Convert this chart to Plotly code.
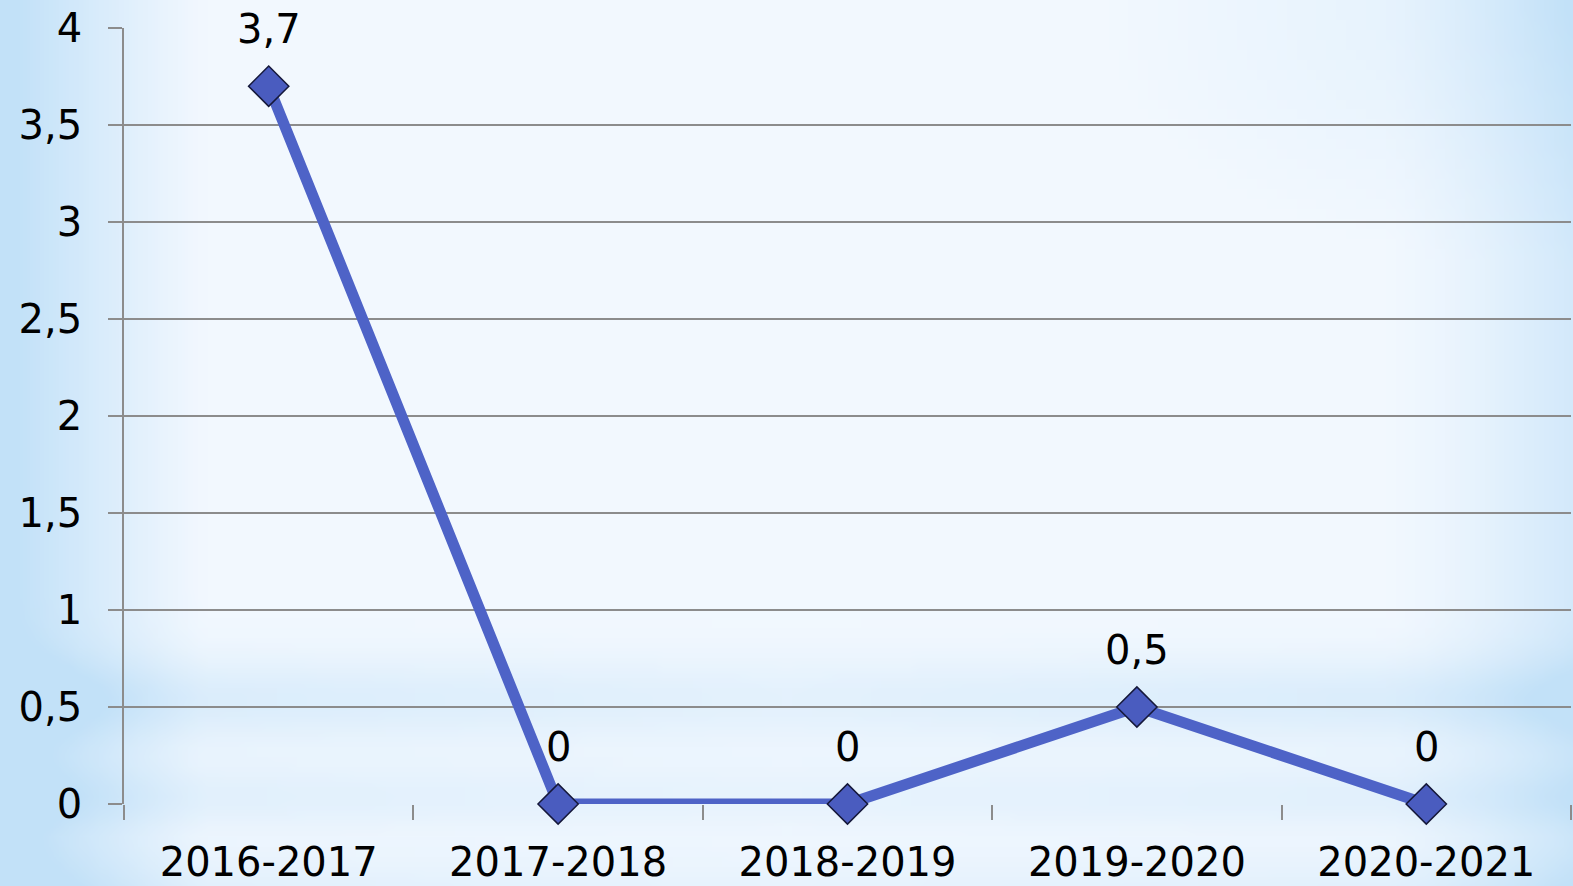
import base64, struct, zlib, math
import plotly.graph_objects as go

categories = ["2016-2017", "2017-2018", "2018-2019", "2019-2020", "2020-2021"]
values = [3.7, 0, 0, 0.5, 0]
labels = [f"{v:g}".replace(".", ",") for v in values]

# ---- background gradient image (decoration) ----
W, H = 160, 90
white = (246, 250, 255)
blue = (194, 225, 248)

def mix(a, b, t):
    return tuple(int(round(a[i] + (b[i] - a[i]) * t)) for i in range(3))

rows = []
for j in range(H):
    fy = j / (H - 1)
    row = bytearray([0])
    for i in range(W):
        fx = i / (W - 1)
        left = max(0.0, 1 - fx / 0.13) ** 1.1
        right = max(0.0, 1 - (1 - fx) / 0.12) ** 1.4 * 0.6
        band = math.exp(-((fy - 0.79) / 0.05) ** 2) * 0.5 + math.exp(-((fy - 0.9) / 0.04) ** 2) * 0.35
        band += max(0.0, (fy - 0.94) / 0.06) * 0.35
        top_right = max(0.0, 1 - math.hypot(1 - fx, fy) / 0.3) * 0.35
        t = min(1.0, 0.08 + left + right + band * (0.55 + 0.45 * abs(fx - 0.5) * 2) + top_right)
        row += bytes(mix(white, blue, t))
    rows.append(bytes(row))
raw = b"".join(rows)

def chunk(tag, data):
    c = struct.pack(">I", len(data)) + tag + data
    return c + struct.pack(">I", zlib.crc32(tag + data) & 0xFFFFFFFF)

png = b"\x89PNG\r\n\x1a\n" + chunk(b"IHDR", struct.pack(">IIBBBBB", W, H, 8, 2, 0, 0, 0)) \
    + chunk(b"IDAT", zlib.compress(raw, 9)) + chunk(b"IEND", b"")
bg_uri = "data:image/png;base64," + base64.b64encode(png).decode()

font = "DejaVu Sans"
FW, FH = 1573, 886
ML, MR, MT, MB = 124, 2, 28, 82
PW, PH = FW - ML - MR, FH - MT - MB

fig = go.Figure()
fig.add_trace(go.Scatter(
    x=categories, y=values, mode="lines+markers",
    line=dict(color="#4e63c7", width=11),
    marker=dict(symbol="diamond", size=31, color="#4a5cbf",
                line=dict(color="#15183a", width=1.5)),
    cliponaxis=False, hoverinfo="skip",
))
for c, v, t in zip(categories, values, labels):
    fig.add_annotation(x=c, y=v, text=t, showarrow=False, yshift=57,
                       font=dict(family=font, size=40, color="black"))

fig.update_layout(
    width=FW, height=FH,
    margin=dict(l=ML, r=MR, t=MT, b=MB),
    paper_bgcolor="rgba(0,0,0,0)", plot_bgcolor="rgba(0,0,0,0)",
    separators=", ",
    showlegend=False,
    font=dict(family=font, size=40, color="black"),
    images=[dict(source=bg_uri, xref="paper", yref="paper",
                 x=-(ML + 5) / PW, y=1 + (MT + 5) / PH,
                 sizex=(FW + 10) / PW, sizey=(FH + 10) / PH,
                 sizing="stretch", layer="below",
                 xanchor="left", yanchor="top")],
    xaxis=dict(type="category", range=[-0.5, 4.5], tickson="boundaries",
               ticks="outside", ticklen=15, tickcolor="#8c8c8c", tickwidth=1.5,
               showgrid=False, showline=False, zeroline=False, automargin=False,
               tickfont=dict(family=font, size=40, color="black"),
               ticklabelstandoff=31),
    yaxis=dict(range=[0, 4], dtick=0.5, tick0=0, showgrid=True,
               gridcolor="#8c8c8c", gridwidth=1.8, zeroline=False, automargin=False,
               showline=True, linecolor="#8c8c8c", linewidth=1.8,
               ticks="outside", ticklen=14, tickcolor="#8c8c8c", tickwidth=1.8,
               tickfont=dict(family=font, size=40, color="black"),
               ticklabelstandoff=18),
)

fig.write_html("out.html", config={"displayModeBar": False},
               post_script="document.body.style.margin='0';document.body.style.overflow='hidden';")
